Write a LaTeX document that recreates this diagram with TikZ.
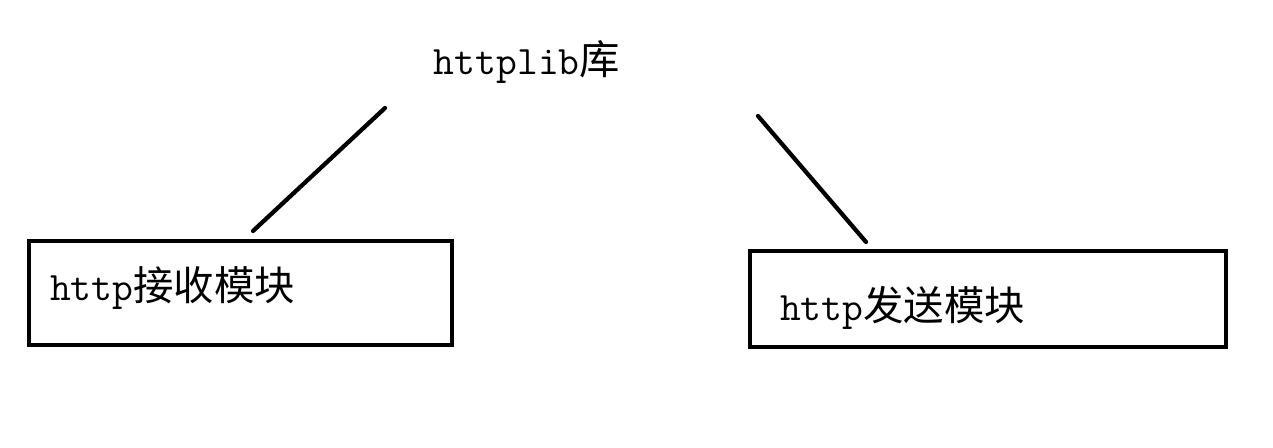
\documentclass[tikz,border=0pt]{standalone}
\usepackage{fontspec}
\newfontfamily\cjk{Noto Sans CJK SC}
\usetikzlibrary{positioning}

\begin{document}
\begin{tikzpicture}[x=0.02cm,y=-0.02cm,line width=0.085cm,
		module/.style={draw,rectangle,inner sep=0pt,minimum height=2.08cm},
		modlabel/.style={font=\fontsize{23}{26}\selectfont,inner sep=0pt},
		link/.style={line cap=round}]
			\useasboundingbox (0,0) rectangle (1273,448);
			\node[modlabel] (lib) at (527,62) {\texttt{httplib}{\cjk 库}};
			\node[module,minimum width=8.46cm] (recv) at (240.5,293) {};
			\node[module,minimum width=9.52cm,minimum height=1.92cm] (send) at (988,299) {};
			\node[modlabel] (recvtext) [right=0.42cm of recv.west,yshift=0.1cm] {\texttt{http}{\cjk 接收模块}};
			\node[modlabel] (sendtext) [right=0.6cm of send.west,yshift=-0.18cm] {\texttt{http}{\cjk 发送模块}};
			% free ends of the two links
			\coordinate (libl) at (385,108);
			\coordinate (recvtop) at (253,231);
			\coordinate (libr) at (758,116);
			\coordinate (sendtop) at (866,242);
			\draw[link] (libl) -- (recvtop);
			\draw[link] (libr) -- (sendtop);
		\end{tikzpicture}
\end{document}
